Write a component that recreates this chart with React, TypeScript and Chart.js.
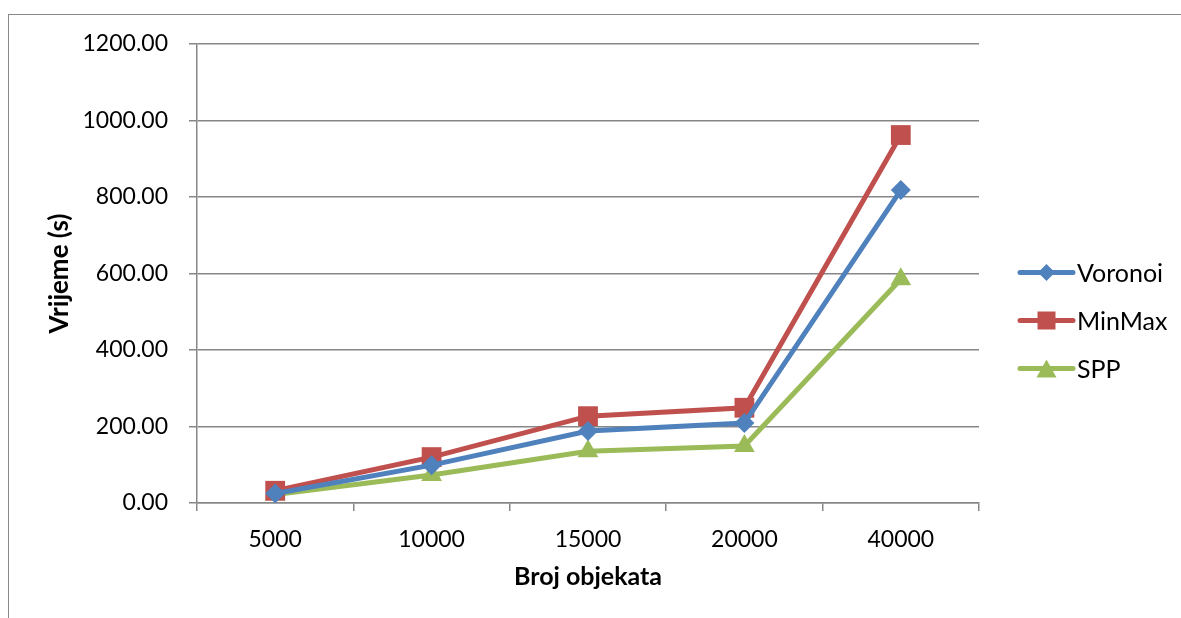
import React, { useEffect, useRef } from "react";
import { Chart, registerables } from "chart.js";

Chart.register(...registerables);

const categories = ["5000", "10000", "15000", "20000", "40000"];
const voronoi = [25, 99, 188, 209, 818];
const minMax = [32, 120, 227, 249, 962];
const spp = [22, 73, 135, 149, 585];
const yTicks = [0, 200, 400, 600, 800, 1000, 1200];
const seriesNames = ["Voronoi", "MinMax", "SPP"];
const xTitle = "Broj objekata";
const yTitle = "Vrijeme (s)";

const BLUE = "#4F81BD";
const RED = "#C0504D";
const GREEN = "#9BBB59";
const GRID = "#878787";
const FONT = "Lato";

function drawMarker(ctx: CanvasRenderingContext2D, style: string, x: number, y: number, r: number, color: string) {
  ctx.save();
  ctx.fillStyle = color;
  ctx.beginPath();
  if (style === "rectRot") {
    ctx.moveTo(x - r, y);
    ctx.lineTo(x, y - r);
    ctx.lineTo(x + r, y);
    ctx.lineTo(x, y + r);
  } else if (style === "rect") {
    ctx.rect(x - r, y - r, 2 * r, 2 * r);
  } else {
    const h = r * 1.8;
    ctx.moveTo(x, y - h / 2);
    ctx.lineTo(x + r, y + h / 2);
    ctx.lineTo(x - r, y + h / 2);
  }
  ctx.closePath();
  ctx.fill();
  ctx.restore();
}

const legendPlugin = {
  id: "sideLegend",
  afterDraw(chart: any) {
    const ctx: CanvasRenderingContext2D = chart.ctx;
    const area = chart.chartArea;
    const x0 = area.right + 41;
    const x1 = x0 + 53;
    const firstY = (area.top + area.bottom) / 2 - 1;
    const gap = 48;
    const ds = chart.data.datasets;
    const sizes = [8.5, 9, 10];
    ds.forEach((d: any, i: number) => {
      const y = firstY + i * gap;
      ctx.save();
      ctx.strokeStyle = d.borderColor;
      ctx.lineWidth = 5;
      ctx.lineCap = "round";
      ctx.beginPath();
      ctx.moveTo(x0, y);
      ctx.lineTo(x1, y);
      ctx.stroke();
      ctx.restore();
      drawMarker(ctx, d.pointStyle, (x0 + x1) / 2, y, sizes[i], d.borderColor);
      ctx.save();
      ctx.fillStyle = "#000";
      ctx.font = `25px ${FONT}`;
      ctx.textAlign = "left";
      ctx.textBaseline = "middle";
      ctx.fillText(d.label, x1 + 4, y + 1);
      ctx.restore();
    });
  },
};

export default function App() {
  const ref = useRef<HTMLCanvasElement>(null);

  useEffect(() => {
    if (!ref.current) return;
    const mk = (label: string, data: number[], color: string, style: string, radius: number) => ({
      label,
      data,
      borderColor: color,
      backgroundColor: color,
      pointBackgroundColor: color,
      pointBorderColor: color,
      pointBorderWidth: 0,
      pointStyle: style,
      pointRadius: radius,
      borderWidth: 5,
      tension: 0,
    });
    const chart = new Chart(ref.current, {
      type: "line",
      data: {
        labels: categories,
        datasets: [
          mk(seriesNames[0], voronoi, BLUE, "rectRot", 10),
          mk(seriesNames[1], minMax, RED, "rect", 14),
          mk(seriesNames[2], spp, GREEN, "triangle", 12),
        ],
      },
      options: {
        responsive: false,
        animation: false,
        layout: { padding: { left: 0, top: 44, right: 202, bottom: 0 } },
        plugins: { legend: { display: false }, tooltip: { enabled: false } },
        scales: {
          x: {
            type: "category",
            offset: true,
            grid: {
              display: true,
              offset: true,
              drawOnChartArea: false,
              drawTicks: true,
              tickLength: 8,
              color: GRID,
              lineWidth: 1.5,
            },
            border: { display: true, color: GRID, width: 1.5 },
            ticks: { color: "#000", padding: 15, font: { family: FONT, size: 23 }, maxRotation: 0 },
            title: {
              display: true,
              text: xTitle,
              color: "#000",
              font: { family: FONT, size: 25, weight: "bold" },
              padding: { top: 0, bottom: 26 },
            },
            afterFit: (s: any) => {
              s.height = 115;
            },
          },
          y: {
            min: 0,
            max: 1200,
            afterBuildTicks: (s: any) => {
              s.ticks = yTicks.map((v) => ({ value: v }));
            },
            grid: { color: GRID, lineWidth: 1.5, tickLength: 8, drawTicks: true },
            border: { display: true, color: GRID, width: 1.5 },
            ticks: {
              color: "#000",
              padding: 21,
              font: { family: FONT, size: 23 },
              callback: (v: any) => Number(v).toFixed(2),
            },
            title: {
              display: true,
              text: yTitle,
              color: "#000",
              font: { family: FONT, size: 26, weight: "bold" },
              padding: { top: 44, bottom: 0 },
            },
            afterFit: (s: any) => {
              s.width = 197;
            },
          },
        },
      },
      plugins: [legendPlugin],
    } as any);
    return () => chart.destroy();
  }, []);

  return (
    <div style={{ position: "fixed", left: 0, top: 0, width: 1181, height: 618, overflow: "hidden", background: "#fff" }}>
      <div
        style={{
          position: "absolute",
          left: 8,
          top: 14,
          width: 1300,
          height: 800,
          borderLeft: "1.5px solid #8a8a8a",
          borderTop: "1.5px solid #8a8a8a",
        }}
      />
      <canvas ref={ref} width={1181} height={618} style={{ position: "absolute", left: 0, top: 0, width: 1181, height: 618 }} />
    </div>
  );
}
